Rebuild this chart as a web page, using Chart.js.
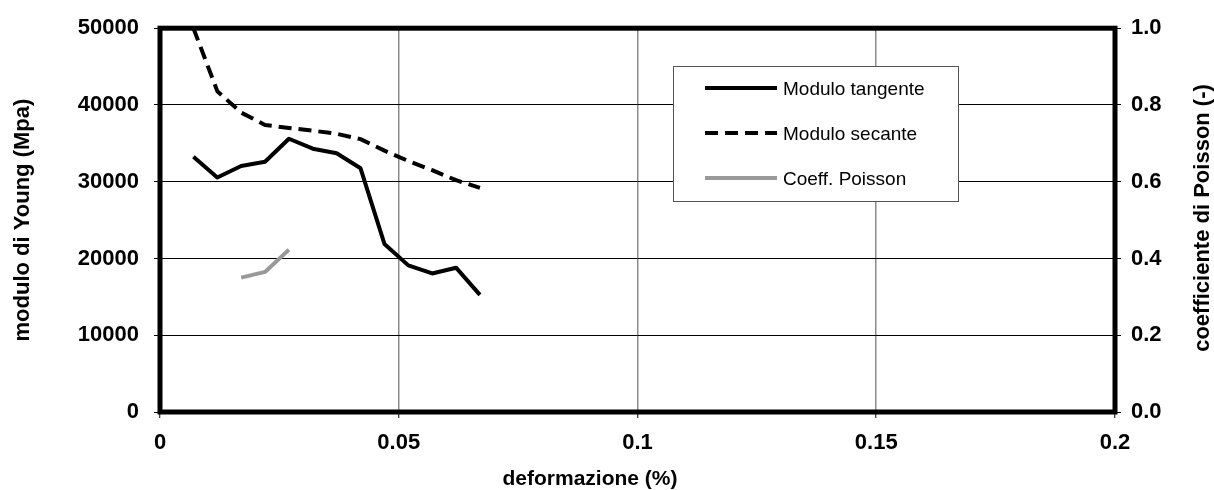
<!DOCTYPE html>
<html>
<head>
<meta charset="utf-8">
<script src="https://cdn.jsdelivr.net/npm/chart.js@4.4.1/dist/chart.umd.min.js"></script>
<style>
  html, body { margin: 0; padding: 0; background: #fff; }
  #wrap { width: 1214px; height: 490px; }
</style>
</head>
<body>
<div id="wrap"><canvas id="c" width="1214" height="490"></canvas></div>
<script>
// ---- data ----
const strain = [0.007, 0.012, 0.017, 0.022, 0.027, 0.032, 0.037, 0.042, 0.047, 0.052, 0.057, 0.062, 0.067];
const moduloTangente = [33250, 30550, 32050, 32600, 35600, 34300, 33700, 31750, 21900, 19100, 18050, 18800, 15250];
const moduloSecante = [50000, 41800, 39000, 37400, 37000, 36650, 36250, 35550, 34050, 32700, 31500, 30200, 29200];
const strainPoisson = [0.017, 0.022, 0.027];
const coeffPoisson = [0.35, 0.365, 0.423];
const seriesNames = ['Modulo tangente', 'Modulo secante', 'Coeff. Poisson'];
const xTitle = 'deformazione (%)';
const yTitle = 'modulo di Young (Mpa)';
const y2Title = 'coefficiente di Poisson (-)';

const FONT = '"Liberation Sans", Arial, sans-serif';
const pts = (xs, ys) => xs.map((x, i) => ({ x: x, y: ys[i] }));

const datasets = [
  { label: seriesNames[0], data: pts(strain, moduloTangente), borderColor: '#000', borderWidth: 4, yAxisID: 'y', legendDash: [] },
  { label: seriesNames[1], data: pts(strain, moduloSecante), borderColor: '#000', borderWidth: 4, borderDash: [13, 7], yAxisID: 'y', legendDash: [13, 7] },
  { label: seriesNames[2], data: pts(strainPoisson, coeffPoisson), borderColor: '#999999', borderWidth: 4, yAxisID: 'y1', legendDash: [] }
];
datasets.forEach(d => { d.pointRadius = 0; d.tension = 0; d.fill = false; d.borderJoinStyle = 'round'; });

const decorPlugin = {
  id: 'decor',
  afterDatasetsDraw(chart) {
    const ctx = chart.ctx;
    const a = chart.chartArea;
    ctx.save();
    // thick frame
    ctx.strokeStyle = '#000';
    ctx.lineWidth = 5;
    ctx.setLineDash([]);
    ctx.strokeRect(a.left, a.top, a.right - a.left, a.bottom - a.top);

    // legend box
    const bx = 673.5, by = 66.5, bw = 285, bh = 135;
    ctx.fillStyle = '#fff';
    ctx.fillRect(bx, by, bw, bh);
    ctx.lineWidth = 1;
    ctx.strokeStyle = '#555';
    ctx.strokeRect(bx, by, bw, bh);
    const rows = [88, 133, 178];
    chart.data.datasets.forEach((d, i) => {
      const y = rows[i];
      ctx.beginPath();
      ctx.setLineDash(d.legendDash);
      ctx.lineWidth = 4;
      ctx.lineCap = 'butt';
      ctx.strokeStyle = d.borderColor;
      ctx.moveTo(705, y);
      ctx.lineTo(777, y);
      ctx.stroke();
      ctx.setLineDash([]);
      ctx.fillStyle = '#000';
      ctx.font = '19px ' + FONT;
      ctx.textAlign = 'left';
      ctx.textBaseline = 'alphabetic';
      ctx.fillText(d.label, 783, y + 6.8);
    });

    // x title
    ctx.fillStyle = '#000';
    ctx.font = 'bold 21px ' + FONT;
    ctx.textAlign = 'center';
    ctx.textBaseline = 'alphabetic';
    ctx.fillText(xTitle, 590, 485);

    // right title (reads bottom to top)
    ctx.translate(1203, 218);
    ctx.rotate(-Math.PI / 2);
    ctx.font = 'bold 22px ' + FONT;
    ctx.textAlign = 'center';
    ctx.textBaseline = 'middle';
    ctx.fillText(y2Title, 0, 0);
    ctx.restore();
  }
};

new Chart(document.getElementById('c'), {
  type: 'line',
  data: { datasets: datasets },
  options: {
    responsive: false,
    devicePixelRatio: 1,
    animation: false,
    layout: { padding: { top: 23, left: 0, right: 0, bottom: 0 } },
    plugins: { legend: { display: false }, tooltip: { enabled: false } },
    scales: {
      x: {
        type: 'linear', min: 0, max: 0.2,
        afterFit(s) { s.height = 78; },
        ticks: {
          stepSize: 0.05, padding: 12, color: '#000',
          font: { family: FONT, size: 22, weight: 'bold' },
          callback: v => String(+Number(v).toFixed(2))
        },
        grid: { color: '#8c8c8c', lineWidth: 1.5, tickLength: 6, tickColor: '#000', tickWidth: 1 },
        border: { display: false }
      },
      y: {
        type: 'linear', position: 'left', min: 0, max: 50000,
        afterFit(s) { s.width = 160; },
        ticks: {
          stepSize: 10000, padding: 15, color: '#000',
          font: { family: FONT, size: 22, weight: 'bold' },
          callback: v => String(v)
        },
        grid: { color: '#000', lineWidth: 1, tickLength: 6, tickColor: '#000' },
        border: { display: false },
        title: {
          display: true, text: yTitle, color: '#000',
          font: { family: FONT, size: 22, weight: 'bold', lineHeight: 1.2 },
          padding: { top: 10, bottom: 0 }
        }
      },
      y1: {
        type: 'linear', position: 'right', min: 0, max: 1,
        afterFit(s) { s.width = 99; },
        ticks: {
          stepSize: 0.2, padding: 10, color: '#000',
          font: { family: FONT, size: 22, weight: 'bold' },
          callback: v => Number(v).toFixed(1)
        },
        grid: { drawOnChartArea: false, tickLength: 6, tickColor: '#000', color: '#000' },
        border: { display: false }
      }
    }
  },
  plugins: [decorPlugin]
});
</script>
</body>
</html>
